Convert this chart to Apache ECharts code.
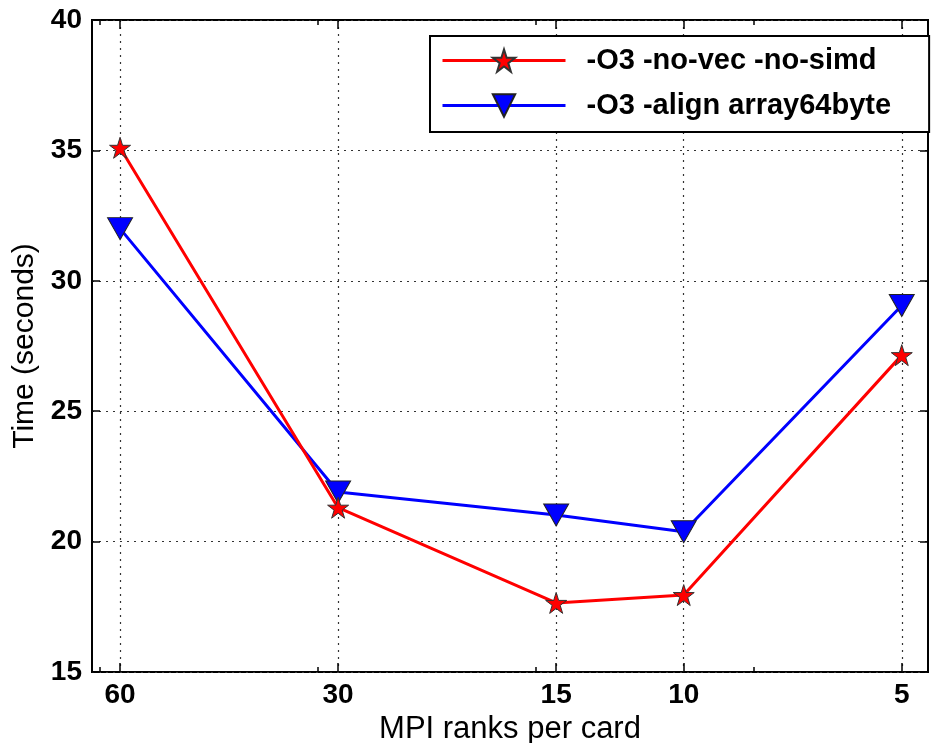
<!DOCTYPE html>
<html>
<head>
<meta charset="utf-8">
<script src="https://cdn.jsdelivr.net/npm/echarts@6/dist/echarts.min.js"></script>
<style>
  html, body { margin: 0; padding: 0; background: #fff; }
  #main { width: 932px; height: 743px; }
</style>
</head>
<body>
<div id="main"></div>
<script>
// ranks per card (log x axis, reversed)
var ranks = [60, 30, 15, 10, 5];
var minorRanks = [64, 32, 16, 8];
var seriesNames = ['-O3 -no-vec -no-simd', '-O3 -align array64byte'];
var timeNoVec = [35.1, 21.3, 17.65, 17.95, 27.15];
var timeAlign = [32.0, 21.9, 21.02, 20.38, 29.05];

var FONT = 'Liberation Sans';
var starPath = 'path://M50,0 L61.2,34.5 L97.6,34.5 L68.2,55.9 L79.4,90.5 L50,69.1 L20.6,90.5 L31.8,55.9 L2.4,34.5 L38.8,34.5 Z';

function pairs(xs, ys) {
    return xs.map(function (x, i) { return [x, ys[i]]; });
}

// one x axis definition, reused for bottom/top and major/minor ticks
function xAxisDef(position, ticks, len, withLabels, withGrid) {
    return {
        type: 'log',
        logBase: 10,
        inverse: true,
        min: 4.6,
        max: 65.6,
        position: position,
        axisLine: { show: false },
        axisTick: { show: true, inside: true, length: len, customValues: ticks,
            lineStyle: { color: '#000', width: 1.5 } },
        axisLabel: { show: withLabels, customValues: ticks, margin: 9,
            color: '#000', fontFamily: FONT, fontWeight: 'bold', fontSize: 28 },
        splitLine: { show: withGrid,
            lineStyle: { color: '#333', width: 1.2, type: [2, 5] } },
        name: withLabels ? 'MPI ranks per card' : '',
        nameLocation: 'middle',
        nameGap: 34,
        nameTextStyle: { color: '#000', fontFamily: FONT, fontSize: 31 }
    };
}

function yAxisDef(position, withLabels) {
    return {
        type: 'value',
        min: 15,
        max: 40,
        interval: 5,
        position: position,
        axisLine: { show: false },
        axisTick: { show: true, inside: true, length: 8,
            lineStyle: { color: '#000', width: 1.5 } },
        axisLabel: { show: withLabels, margin: 10,
            color: '#000', fontFamily: FONT, fontWeight: 'bold', fontSize: 28 },
        splitLine: { show: withLabels,
            lineStyle: { color: '#333', width: 1.2, type: [2, 5] } },
        name: withLabels ? 'Time (seconds)' : '',
        nameLocation: 'middle',
        nameGap: 48,
        nameTextStyle: { color: '#000', fontFamily: FONT, fontSize: 30 }
    };
}

var chart = echarts.init(document.getElementById('main'), null, { renderer: 'canvas' });

chart.setOption({
    backgroundColor: '#fff',
    animation: false,
    grid: {
        left: 92, right: 4, top: 20, bottom: 71,
        show: true, borderColor: '#000', borderWidth: 2,
        containLabel: false,
        outerBoundsMode: 'none'
    },
    legend: {
        orient: 'vertical',
        left: 430,
        top: 36,
        padding: [10, 38, 12, 11],
        itemWidth: 123,
        itemHeight: 28,
        itemGap: 16,
        borderColor: '#000',
        borderWidth: 2,
        backgroundColor: '#fff',
        lineStyle: { width: 3 },
        textStyle: { color: '#000', fontFamily: FONT, fontWeight: 'bold', fontSize: 29,
            padding: [0, 0, 0, 16] },
        data: seriesNames
    },
    xAxis: [
        xAxisDef('bottom', ranks, 9, true, true),
        xAxisDef('bottom', minorRanks, 5, false, false),
        xAxisDef('top', ranks, 9, false, false),
        xAxisDef('top', minorRanks, 5, false, false)
    ],
    yAxis: [
        yAxisDef('left', true),
        yAxisDef('right', false)
    ],
    series: [
        {
            name: seriesNames[0],
            type: 'line',
            xAxisIndex: 0,
            yAxisIndex: 0,
            data: pairs(ranks, timeNoVec),
            symbol: starPath,
            symbolSize: 21,
            lineStyle: { color: '#ff0000', width: 3 },
            itemStyle: { color: '#ff0000', borderColor: '#333', borderWidth: 1 },
            z: 3
        },
        {
            name: seriesNames[1],
            type: 'line',
            xAxisIndex: 0,
            yAxisIndex: 0,
            data: pairs(ranks, timeAlign),
            symbol: 'triangle',
            symbolRotate: 180,
            symbolSize: [25, 22],
            lineStyle: { color: '#0000ff', width: 3 },
            itemStyle: { color: '#0000ff', borderColor: '#222', borderWidth: 1 },
            z: 2
        }
    ]
});
</script>
</body>
</html>
